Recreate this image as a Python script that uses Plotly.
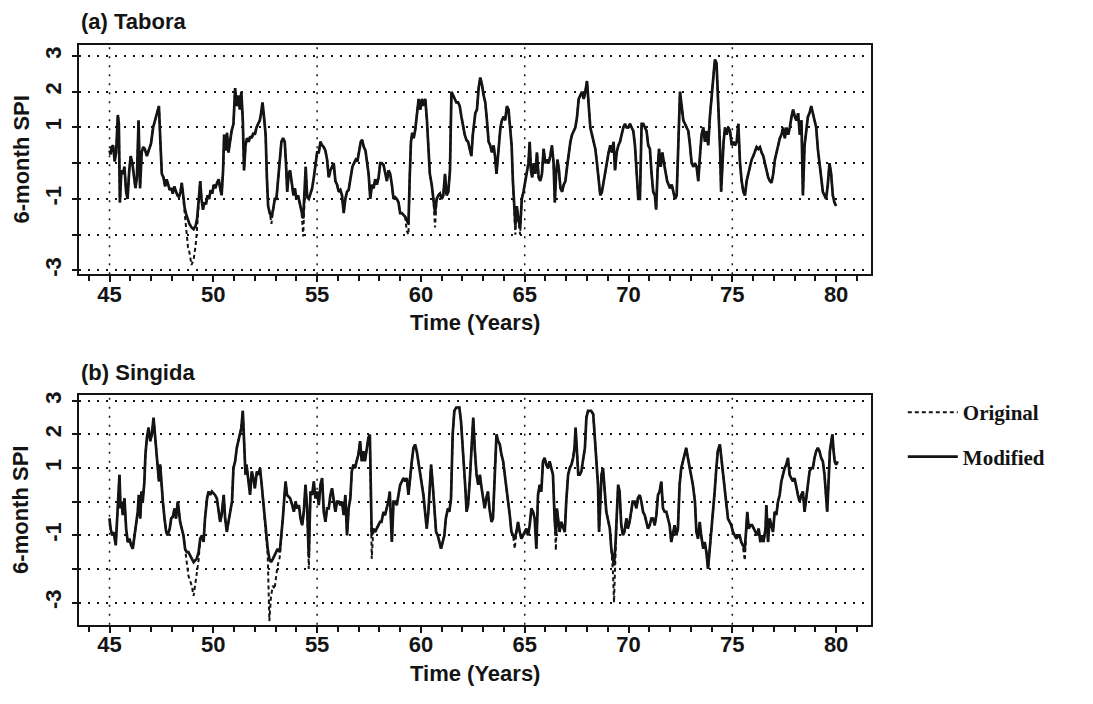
import plotly.graph_objects as go

# ---------------------------------------------------------------------------
# 6-month SPI series (decimal year -> SPI), read month by month
# ---------------------------------------------------------------------------
tabora_year = [
    45.00, 45.05, 45.10, 45.17, 45.25, 45.32, 45.40, 45.45, 45.50, 45.57, 45.65, 45.72, 45.80, 45.87, 45.95,
    46.02, 46.10, 46.17, 46.25, 46.32, 46.40, 46.47, 46.55, 46.62, 46.70, 46.80, 46.90,
    47.00, 47.10, 47.20, 47.30, 47.38, 47.45, 47.52, 47.60, 47.68, 47.75, 47.82, 47.90, 47.97,
    48.05, 48.12, 48.20, 48.27, 48.35, 48.42, 48.48, 48.55, 48.62, 48.70, 48.78, 48.85, 48.95,
    49.05, 49.15, 49.22, 49.30, 49.37, 49.43, 49.50, 49.57, 49.65, 49.72, 49.80, 49.87, 49.95,
    50.02, 50.10, 50.18, 50.26, 50.33, 50.40, 50.47, 50.52, 50.60, 50.66, 50.73, 50.80, 50.88, 50.97,
    51.05, 51.12, 51.20, 51.28, 51.35, 51.42, 51.48, 51.55, 51.62, 51.70, 51.78, 51.85, 51.93,
    52.00, 52.08, 52.16, 52.24, 52.30, 52.37, 52.44, 52.52, 52.58, 52.64, 52.72, 52.80, 52.88, 52.96,
    53.04, 53.12, 53.20, 53.28, 53.36, 53.44, 53.50, 53.56, 53.63, 53.70, 53.78, 53.86, 53.93,
    54.00, 54.08, 54.16, 54.25, 54.33, 54.40, 54.45, 54.52, 54.60, 54.68, 54.76, 54.84, 54.92,
    55.00, 55.08, 55.16, 55.24, 55.32, 55.40, 55.48, 55.56, 55.64, 55.72, 55.80, 55.88, 55.96,
    56.04, 56.12, 56.20, 56.28, 56.36, 56.44, 56.52, 56.60, 56.70, 56.78, 56.86, 56.94,
    57.02, 57.10, 57.17, 57.25, 57.33, 57.40, 57.48, 57.56, 57.64, 57.72, 57.80, 57.88, 57.96,
    58.04, 58.12, 58.20, 58.28, 58.36, 58.44, 58.52, 58.60, 58.68, 58.76, 58.84, 58.92,
    59.00, 59.08, 59.16, 59.24, 59.32, 59.40, 59.46, 59.52, 59.58, 59.65, 59.73, 59.81, 59.89, 59.97,
    60.05, 60.13, 60.21, 60.29, 60.37, 60.43, 60.52, 60.60, 60.68, 60.76, 60.84, 60.92,
    61.00, 61.08, 61.16, 61.24, 61.32, 61.40, 61.47, 61.55, 61.63, 61.71, 61.79, 61.87, 61.95,
    62.03, 62.11, 62.19, 62.27, 62.35, 62.43, 62.50, 62.55, 62.62, 62.70, 62.78, 62.86, 62.94,
    63.02, 63.10, 63.18, 63.26, 63.34, 63.42, 63.50, 63.57, 63.64, 63.70, 63.76, 63.83, 63.90, 63.98,
    64.06, 64.14, 64.22, 64.30, 64.37, 64.43, 64.49, 64.55, 64.62, 64.70, 64.78, 64.86, 64.94,
    65.02, 65.10, 65.18, 65.24, 65.30, 65.36, 65.43, 65.51, 65.59, 65.67, 65.75, 65.83, 65.91, 65.99,
    66.07, 66.15, 66.23, 66.31, 66.39, 66.45, 66.51, 66.58, 66.65, 66.72, 66.80, 66.88, 66.96,
    67.04, 67.12, 67.20, 67.28, 67.36, 67.44, 67.52, 67.60, 67.68, 67.76, 67.84, 67.92,
    68.00, 68.08, 68.16, 68.24, 68.32, 68.40, 68.48, 68.56, 68.64, 68.72, 68.80, 68.88, 68.96,
    69.04, 69.12, 69.20, 69.28, 69.35, 69.43, 69.51, 69.59, 69.67, 69.75, 69.83, 69.91, 69.99,
    70.07, 70.15, 70.23, 70.31, 70.39, 70.47, 70.55, 70.63, 70.71, 70.79, 70.87, 70.95,
    71.03, 71.11, 71.19, 71.27, 71.33, 71.40, 71.47, 71.55, 71.63, 71.71, 71.79, 71.86, 71.93,
    72.00, 72.08, 72.16, 72.24, 72.32, 72.38, 72.43, 72.48, 72.56, 72.64, 72.72, 72.80, 72.88, 72.96,
    73.04, 73.12, 73.20, 73.28, 73.36, 73.44, 73.52, 73.60, 73.68, 73.76, 73.84, 73.92,
    74.00, 74.08, 74.16, 74.24, 74.30, 74.36, 74.41, 74.46, 74.52, 74.58, 74.65, 74.73, 74.81, 74.89, 74.97,
    75.05, 75.13, 75.21, 75.29, 75.37, 75.45, 75.53, 75.61, 75.69, 75.77, 75.85, 75.93,
    76.01, 76.09, 76.17, 76.25, 76.33, 76.41, 76.49, 76.57, 76.65, 76.73, 76.81, 76.89, 76.97,
    77.05, 77.13, 77.21, 77.29, 77.37, 77.45, 77.53, 77.61, 77.69, 77.77, 77.85, 77.93,
    78.01, 78.09, 78.17, 78.25, 78.33, 78.40, 78.48, 78.56, 78.64, 78.72, 78.80, 78.88, 78.96,
    79.04, 79.12, 79.20, 79.28, 79.36, 79.44, 79.52, 79.60, 79.68, 79.76, 79.84, 79.92, 80.00,
]
tabora_modified = [
    0.35, 0.25, 0.45, 0.50, 0.05, 0.30, 1.35, 1.10, -1.10, -0.20, -0.30, -0.10, -0.80, -1.00, -0.20,
    0.20, 0.00, -0.40, -0.70, -0.40, 1.20, -0.70, 0.30, 0.45, 0.40, 0.20, 0.40,
    0.55, 1.00, 1.20, 1.40, 1.60, 0.60, -0.30, -0.40, -0.65, -0.45, -0.60, -0.75, -0.70,
    -0.85, -0.65, -0.80, -0.90, -0.95, -0.80, -0.55, -1.00, -1.25, -1.45, -1.60, -1.70, -1.80,
    -1.85, -1.75, -1.55, -1.00, -0.50, -1.00, -1.30, -1.10, -1.15, -0.90, -1.00, -0.75, -0.85,
    -0.60, -0.70, -0.55, -0.45, -0.70, -0.90, -0.20, 0.80, 0.35, 0.85, 0.30, 0.60, 0.90, 1.10,
    2.10, 1.60, 1.90, 1.50, 2.00, 1.20, -0.20, 0.50, 0.70, 0.60, 0.75, 0.70, 0.85,
    0.80, 1.00, 1.10, 1.20, 1.40, 1.70, 1.30, 0.80, -0.40, -1.20, -1.40, -1.50, -1.30, -1.00,
    -1.00, -0.50, 0.20, 0.60, 0.70, 0.60, 0.00, -0.80, -0.30, -0.20, -0.55, -0.90, -0.70,
    -1.00, -0.90, -1.15, -1.35, -1.55, -0.90, -0.10, -0.95, -1.00, -0.85, -0.70, -0.40, 0.00,
    0.30, 0.30, 0.60, 0.50, 0.45, 0.35, 0.10, -0.40, -0.20, -0.10, 0.00, -0.50, -0.60,
    -0.80, -0.75, -0.90, -1.40, -1.00, -0.80, -0.75, -0.50, -0.10, 0.00, 0.10, 0.05,
    0.35, 0.60, 0.65, 0.45, 0.35, 0.10, -0.30, -1.00, -0.60, -0.70, -0.45, -0.60, -0.40,
    0.00, 0.00, -0.05, -0.30, -0.50, -0.20, -0.30, -0.60, -1.00, -0.95, -1.00, -1.10,
    -1.40, -1.40, -1.45, -1.50, -1.60, -1.70, -0.40, 0.60, 0.85, 0.70, 0.95, 1.50, 1.80, 1.50,
    1.80, 1.60, 1.80, 1.20, 0.50, -0.30, -0.60, -1.00, -1.40, -1.00, -0.90, -0.85,
    -1.00, -0.90, -0.30, -0.90, -0.80, -0.20, 2.00, 1.90, 1.80, 1.70, 1.70, 1.60, 1.30,
    1.00, 0.80, 0.65, 0.60, 0.40, 0.20, 0.80, 1.10, 1.40, 1.50, 2.10, 2.40, 2.20,
    1.90, 1.70, 1.20, 0.60, 0.50, 0.30, 0.50, 0.20, -0.30, 0.10, 0.40, 1.00, 1.20, 1.30,
    1.20, 1.60, 1.50, 1.00, 0.50, -0.50, -1.20, -1.75, -1.20, -1.60, -1.80, -1.00, -0.80,
    -0.50, -0.20, 0.00, 0.60, -0.20, -0.40, 0.00, -0.30, 0.30, -0.40, -0.50, -0.30, 0.40, 0.00,
    0.10, 0.00, 0.20, 0.50, 0.00, -1.10, -0.30, 0.10, -0.20, -0.70, -0.80, -0.60, -0.50,
    -0.10, 0.30, 0.60, 0.80, 0.90, 1.00, 1.30, 1.80, 1.90, 2.00, 1.80, 2.00,
    2.30, 1.60, 1.00, 0.80, 0.60, 0.40, 0.00, -0.40, -0.90, -0.80, -0.50, -0.20, 0.00,
    0.30, 0.50, 0.30, 0.60, -0.20, 0.30, 0.50, 0.60, 0.80, 1.00, 1.10, 1.00, 1.00,
    1.10, 1.00, 0.90, 0.50, -0.20, -1.00, -1.00, 1.10, 1.10, 1.00, 0.90, 0.50,
    0.40, -0.30, -0.80, -0.90, -1.30, -0.20, 0.40, -0.10, 0.30, 0.00, -0.30, -0.50, -0.60,
    -0.70, -0.60, -0.80, -1.00, -0.90, 0.00, 1.00, 2.00, 1.60, 1.20, 1.10, 1.00, 0.90, 0.50,
    0.00, -0.10, 0.00, -0.10, -0.50, 0.20, 0.80, 1.00, 0.60, 0.90, 0.50, 1.30,
    1.80, 2.30, 2.90, 2.80, 2.00, 1.00, 0.40, -0.80, 0.20, 0.60, 1.00, 0.80, 1.00, 0.90, 0.50,
    0.60, 0.50, 0.60, 1.10, 0.00, -0.50, -0.80, -0.90, -0.50, -0.30, -0.10, 0.10,
    0.20, 0.35, 0.45, 0.40, 0.45, 0.30, 0.20, 0.00, -0.20, -0.40, -0.50, -0.55, -0.30,
    0.10, 0.30, 0.50, 0.70, 0.80, 1.00, 0.70, 1.00, 0.80, 1.00, 1.30, 1.50,
    1.30, 1.20, 1.40, 0.80, 1.20, -0.90, 0.50, 1.00, 1.30, 1.40, 1.60, 1.40, 1.20,
    1.00, 0.40, 0.00, -0.50, -0.80, -0.90, -1.00, -0.60, 0.00, -0.30, -0.90, -1.10, -1.20,
]
# Months where the original SPI departs from the modified one
tabora_original_dips = {
    48.62: -1.50, 48.70: -2.00, 48.78: -2.35, 48.85: -2.50, 48.95: -2.85,
    49.05: -2.70, 49.15: -2.30, 49.22: -1.80,
    52.80: -1.70, 54.33: -2.05, 59.32: -1.90, 59.40: -2.00, 60.68: -1.80,
    64.55: -2.00, 64.78: -2.00,
}

singida_year = [
    45.00, 45.05, 45.13, 45.20, 45.30, 45.35, 45.42, 45.48, 45.53, 45.58, 45.64, 45.72, 45.80, 45.88, 45.96,
    46.04, 46.12, 46.20, 46.28, 46.36, 46.41, 46.48, 46.54, 46.60, 46.68, 46.73, 46.80, 46.88, 46.96,
    47.04, 47.12, 47.18, 47.25, 47.30, 47.38, 47.44, 47.50, 47.57, 47.65, 47.73, 47.80, 47.90, 47.97,
    48.05, 48.13, 48.20, 48.29, 48.34, 48.40, 48.48, 48.56, 48.64, 48.72, 48.80, 48.88, 48.96,
    49.05, 49.12, 49.20, 49.29, 49.37, 49.45, 49.53, 49.60, 49.70, 49.77, 49.85, 49.93,
    50.00, 50.08, 50.17, 50.25, 50.33, 50.40, 50.50, 50.57, 50.65, 50.73, 50.80, 50.90, 50.97,
    51.05, 51.13, 51.20, 51.30, 51.35, 51.42, 51.48, 51.55, 51.60, 51.70, 51.77, 51.85, 51.93,
    52.00, 52.10, 52.17, 52.25, 52.33, 52.40, 52.48, 52.56, 52.62, 52.70, 52.78, 52.87, 52.95,
    53.03, 53.10, 53.20, 53.27, 53.35, 53.43, 53.48, 53.55, 53.63, 53.70, 53.80, 53.88, 53.96,
    54.04, 54.12, 54.20, 54.28, 54.36, 54.44, 54.52, 54.60, 54.68, 54.76, 54.84, 54.92,
    55.00, 55.08, 55.16, 55.24, 55.32, 55.40, 55.48, 55.56, 55.64, 55.72, 55.80, 55.88, 55.96,
    56.04, 56.12, 56.20, 56.28, 56.36, 56.44, 56.52, 56.60, 56.67, 56.75, 56.83, 56.90, 56.99,
    57.07, 57.15, 57.23, 57.30, 57.40, 57.47, 57.54, 57.58, 57.63, 57.71, 57.80, 57.87, 57.95,
    58.03, 58.10, 58.20, 58.27, 58.35, 58.43, 58.50, 58.60, 58.68, 58.76, 58.84, 58.92,
    59.00, 59.08, 59.16, 59.24, 59.32, 59.40, 59.48, 59.56, 59.64, 59.72, 59.80, 59.88, 59.96,
    60.04, 60.12, 60.20, 60.28, 60.36, 60.44, 60.49, 60.57, 60.65, 60.73, 60.81, 60.89, 60.97,
    61.05, 61.13, 61.20, 61.30, 61.37, 61.45, 61.53, 61.61, 61.70, 61.77, 61.85, 61.93,
    62.00, 62.07, 62.14, 62.20, 62.27, 62.35, 62.43, 62.52, 62.60, 62.68, 62.76, 62.84, 62.90,
    63.00, 63.07, 63.15, 63.23, 63.30, 63.40, 63.47, 63.55, 63.64, 63.72, 63.80, 63.88, 63.96,
    64.04, 64.12, 64.20, 64.28, 64.36, 64.44, 64.52, 64.60, 64.68, 64.76, 64.84, 64.92,
    65.00, 65.08, 65.16, 65.24, 65.32, 65.40, 65.48, 65.56, 65.64, 65.72, 65.80, 65.88, 65.96,
    66.04, 66.12, 66.20, 66.28, 66.36, 66.44, 66.50, 66.55, 66.62, 66.68, 66.76, 66.85, 66.93,
    67.00, 67.09, 67.17, 67.25, 67.33, 67.40, 67.45, 67.52, 67.58, 67.65, 67.73, 67.80, 67.90, 67.97,
    68.05, 68.13, 68.20, 68.30, 68.37, 68.45, 68.53, 68.58, 68.64, 68.70, 68.77, 68.85, 68.93,
    69.00, 69.10, 69.17, 69.25, 69.30, 69.37, 69.43, 69.50, 69.57, 69.65, 69.73, 69.80, 69.90, 69.97,
    70.05, 70.13, 70.20, 70.30, 70.38, 70.45, 70.54, 70.62, 70.70, 70.78, 70.86, 70.94,
    71.02, 71.10, 71.18, 71.26, 71.34, 71.42, 71.50, 71.58, 71.66, 71.74, 71.82, 71.90, 71.98,
    72.06, 72.14, 72.22, 72.30, 72.38, 72.46, 72.54, 72.62, 72.70, 72.78, 72.86, 72.94,
    73.03, 73.10, 73.20, 73.27, 73.35, 73.43, 73.50, 73.60, 73.67, 73.75, 73.83, 73.90, 73.99,
    74.07, 74.15, 74.23, 74.30, 74.40, 74.47, 74.55, 74.63, 74.71, 74.79, 74.87, 74.95,
    75.03, 75.10, 75.20, 75.27, 75.35, 75.43, 75.50, 75.60, 75.67, 75.72, 75.79, 75.87, 75.95,
    76.03, 76.10, 76.20, 76.27, 76.35, 76.43, 76.50, 76.60, 76.64, 76.72, 76.80, 76.88, 76.96,
    77.04, 77.12, 77.20, 77.28, 77.36, 77.44, 77.52, 77.60, 77.68, 77.76, 77.84, 77.92,
    78.00, 78.08, 78.16, 78.24, 78.32, 78.40, 78.48, 78.56, 78.64, 78.72, 78.80, 78.88, 78.96,
    79.04, 79.12, 79.20, 79.28, 79.36, 79.44, 79.52, 79.57, 79.63, 79.70, 79.77, 79.82, 79.88, 79.93,
    80.00, 80.08,
]
singida_modified = [
    -0.50, -0.80, -1.00, -0.90, -1.30, -0.60, -0.10, 0.80, -0.20, 0.00, -0.40, 0.10, -0.80, -1.20, -1.10,
    -1.30, -1.40, -1.00, -0.60, -0.30, 0.20, -0.50, 0.30, 0.00, 0.60, 1.40, 1.90, 2.20, 1.80,
    2.00, 2.50, 2.00, 1.50, 1.00, 0.60, 1.10, 0.40, 0.00, -0.50, -0.90, -1.00, -0.80, -0.50,
    -0.45, -0.20, -0.50, 0.00, -0.30, -0.60, -0.80, -1.00, -1.40, -1.50, -1.50, -1.60, -1.70,
    -1.80, -1.75, -1.70, -1.50, -1.10, -1.00, -1.20, -0.50, 0.10, 0.30, 0.20, 0.30,
    0.25, 0.20, 0.10, -0.30, -0.60, -0.40, 0.20, -0.50, -0.90, -0.60, -0.30, 0.00, 1.00,
    1.20, 1.60, 1.80, 2.00, 2.20, 2.70, 1.50, 0.80, 1.10, 0.60, 0.20, 0.90, 0.70,
    0.40, 0.90, 0.80, 1.00, 0.50, 0.00, -0.60, -1.10, -1.40, -1.70, -1.80, -1.70, -1.60,
    -1.50, -1.40, -1.50, -1.10, -0.50, 0.20, 0.60, 0.20, 0.15, 0.10, -0.10, -0.30, 0.00,
    -0.20, -0.10, -0.50, -0.70, -0.30, 0.50, -0.20, -1.65, 0.30, 0.20, 0.60, 0.10,
    0.30, -0.10, 0.50, 0.70, -0.30, -0.60, -0.20, -0.20, 0.20, 0.40, 0.00, -0.30, 0.00,
    0.00, -0.10, 0.00, -0.40, 0.20, -1.00, -0.20, 0.10, 0.90, 1.10, 1.00, 1.20, 1.40,
    1.80, 1.20, 1.50, 1.20, 1.60, 1.90, 2.00, 0.50, -1.00, -0.80, -0.90, -0.80, -0.70,
    -0.60, -0.60, -0.30, -0.40, -0.20, 0.00, 0.30, -1.20, 0.00, 0.00, -0.10, 0.20,
    0.50, 0.60, 0.70, 0.60, 0.70, 0.20, 0.80, 1.20, 1.60, 1.70, 1.50, 1.20, 0.90,
    0.50, 0.20, -0.30, -0.80, -0.30, 0.40, 1.10, 0.50, -0.30, -0.90, -1.00, -1.20, -1.40,
    -1.20, -1.00, -0.50, -0.20, -0.30, 0.10, 2.00, 2.70, 2.80, 2.80, 2.80, 2.40,
    1.80, 1.00, 0.40, -0.30, -0.10, 0.60, 1.50, 2.50, 1.50, 0.80, 0.50, 0.80, 0.50,
    0.00, -0.20, 0.10, 0.30, -0.20, -0.60, -0.50, 0.50, 2.00, 1.80, 1.70, 1.40, 1.20,
    0.80, 0.30, 0.00, -0.40, -0.90, -1.00, -1.10, -0.90, -0.60, -0.90, -1.10, -1.00,
    -0.90, -0.80, -1.00, -0.70, -0.20, -0.30, -0.50, -1.40, 0.20, 0.50, 0.30, 1.20, 1.30,
    1.10, 1.00, 1.20, 1.00, 0.80, -0.50, -1.00, -0.20, -0.50, -0.90, -0.60, -0.80, -0.90,
    0.00, 0.80, 1.00, 1.10, 1.30, 1.60, 2.20, 1.20, 0.80, 0.80, 0.90, 1.20, 1.60, 2.50,
    2.70, 2.70, 2.70, 2.60, 2.00, 1.30, 0.50, -0.90, 0.20, 0.80, 1.00, 0.30, -0.30,
    -0.50, -0.80, -1.40, -1.70, -1.90, -1.30, -0.50, 0.50, 0.30, -0.70, -1.00, -0.90, -0.50, -0.80,
    -0.60, -0.30, 0.00, 0.00, -0.20, 0.10, 0.20, 0.00, -0.30, -0.40, -0.60, -0.80,
    -0.70, -0.50, -0.50, -0.70, -0.40, 0.20, 0.30, 0.60, -0.20, -0.30, -0.30, -0.50, -0.70,
    -1.20, -0.90, -0.70, -1.00, -0.80, 0.50, 1.00, 1.20, 1.40, 1.60, 1.30, 1.00,
    0.80, 0.50, 0.00, -0.90, -1.10, -0.60, -1.00, -1.40, -1.20, -1.50, -2.00, -1.50, -1.00,
    -0.30, 0.30, 1.00, 1.50, 1.70, 1.30, 0.80, 0.30, -0.10, -0.50, -0.60, -0.70,
    -0.90, -1.00, -1.10, -1.00, -1.00, -1.20, -1.30, -1.40, -0.80, -0.30, -0.80, -0.70, -0.70,
    -0.80, -0.90, -1.00, -0.80, -1.20, -1.00, -1.20, -0.80, -0.10, -1.20, -0.50, -0.70, -0.90,
    -0.30, -0.40, 0.00, 0.20, 0.60, 0.80, 1.00, 1.10, 1.30, 0.80, 0.70, 0.60,
    0.70, 0.40, 0.20, 0.00, 0.20, 0.30, -0.30, 0.10, 0.50, 0.90, 1.00, 1.00, 1.30,
    1.50, 1.60, 1.50, 1.30, 1.20, 0.80, 0.00, -0.30, 0.50, 1.50, 1.80, 2.00, 1.50, 1.20,
    1.10, 1.20,
]
singida_original_dips = {
    48.72: -1.90, 48.80: -2.20, 48.88: -2.35, 48.96: -2.50, 49.05: -2.80,
    49.12: -2.40, 49.20: -2.15, 49.29: -1.75,
    52.62: -1.60, 52.70: -3.55, 52.78: -2.80, 52.87: -2.50, 52.95: -2.60,
    53.03: -2.20, 53.10: -1.90, 53.20: -1.65,
    54.60: -2.00, 57.63: -1.70, 64.52: -1.40, 66.50: -1.45,
    69.25: -2.10, 69.30: -3.00, 69.37: -1.50, 75.60: -1.75,
}

x_ticks = [45, 50, 55, 60, 65, 70, 75, 80]
x_grid_years = [45, 55, 65, 75]
y_ticks = [-3, -2, -1, 0, 1, 2, 3]
y_tick_text = ["-3", "", "-1", "", "1", "2", "3"]

stations = [
    ("(a) Tabora", tabora_year, tabora_modified, tabora_original_dips),
    ("(b) Singida", singida_year, singida_modified, singida_original_dips),
]

# ---------------------------------------------------------------------------
# Layout constants
# ---------------------------------------------------------------------------
W, H = 1093, 704
INK = "#141414"
SANS = "Liberation Sans"
SERIF = "Liberation Serif"
DOTS = "2px,7px"

x_dom = [79 / W, 871 / W]
y_doms = [[1 - 273 / H, 1 - 41 / H], [1 - 627 / H, 1 - 395 / H]]
y_ranges = [[-3.11, 3.32], [-3.66, 3.17]]
x_range = [43.53, 81.68]

fig = go.Figure()

for i, (label, years, modified, dips) in enumerate(stations):
    xa = "x" if i == 0 else "x2"
    ya = "y" if i == 0 else "y2"
    original = [dips.get(t, v) for t, v in zip(years, modified)]
    fig.add_trace(go.Scatter(
        x=years, y=original, mode="lines", name="Original",
        line=dict(color=INK, width=2.0, dash="4px,3px"),
        xaxis=xa, yaxis=ya, showlegend=(i == 0), legendgroup="orig",
        hoverinfo="skip",
    ))
    fig.add_trace(go.Scatter(
        x=years, y=modified, mode="lines", name="Modified",
        line=dict(color=INK, width=2.7),
        xaxis=xa, yaxis=ya, showlegend=(i == 0), legendgroup="mod",
        hoverinfo="skip",
    ))

tick_font = dict(family=SANS, size=22, color=INK, weight="bold")
label_font = dict(family=SANS, size=22, color=INK, weight="bold")

for i in range(2):
    sx = "" if i == 0 else "2"
    fig.update_layout(**{
        f"xaxis{sx}": dict(
            domain=x_dom, range=x_range, anchor=f"y{sx}",
            tickmode="array", tickvals=x_ticks, ticks="outside", ticklen=6, tickwidth=2,
            tickcolor=INK, tickfont=tick_font, ticklabelstandoff=-7,
            minor=dict(tick0=45, dtick=1, ticks="outside", ticklen=5, tickwidth=2,
                       tickcolor=INK, showgrid=False),
            showgrid=False, zeroline=False,
            showline=True, linecolor=INK, linewidth=2, mirror=True,
        ),
        f"yaxis{sx}": dict(
            domain=y_doms[i], range=y_ranges[i], anchor=f"x{sx}",
            tickmode="array", tickvals=y_ticks, ticktext=y_tick_text,
            ticks="outside", ticklen=5, tickwidth=2, tickcolor=INK,
            tickangle=-90, tickfont=tick_font, ticklabelstandoff=2,
            showgrid=True, gridcolor=INK, gridwidth=1.5, griddash=DOTS,
            zeroline=False,
            showline=True, linecolor=INK, linewidth=2, mirror=True,
        ),
    })
    # dotted vertical guides every ten years
    for yr in x_grid_years:
        fig.add_shape(
            type="line", xref=f"x{sx}", yref=f"y{sx} domain",
            x0=yr, x1=yr, y0=0, y1=1,
            line=dict(color=INK, width=1.5, dash=DOTS), layer="below",
        )
    # panel title
    fig.add_annotation(
        text=stations[i][0], xref="paper", yref="paper",
        x=x_dom[0], y=y_doms[i][1] + 23 / H, xanchor="left", yanchor="middle",
        showarrow=False, font=dict(family=SANS, size=22, color=INK, weight="bold"),
    )
    # x-axis title
    fig.add_annotation(
        text="Time (Years)", xref="paper", yref="paper",
        x=(x_dom[0] + x_dom[1]) / 2, y=y_doms[i][0] - 49 / H,
        xanchor="center", yanchor="middle", showarrow=False, font=label_font,
    )
    # y-axis title
    fig.add_annotation(
        text="6-month SPI", xref="paper", yref="paper",
        x=21 / W, y=(y_doms[i][0] + y_doms[i][1]) / 2,
        xanchor="center", yanchor="middle", textangle=-90,
        showarrow=False, font=label_font,
    )

fig.update_layout(
    width=W, height=H,
    margin=dict(l=0, r=0, t=0, b=0),
    paper_bgcolor="white", plot_bgcolor="white",
    legend=dict(
        x=0.826, y=1 - 392 / H, xanchor="left", yanchor="top",
        font=dict(family=SERIF, size=21, color=INK, weight="bold"),
        itemwidth=50, tracegroupgap=14, bgcolor="rgba(0,0,0,0)",
    ),
)

fig.write_html("out.html")
